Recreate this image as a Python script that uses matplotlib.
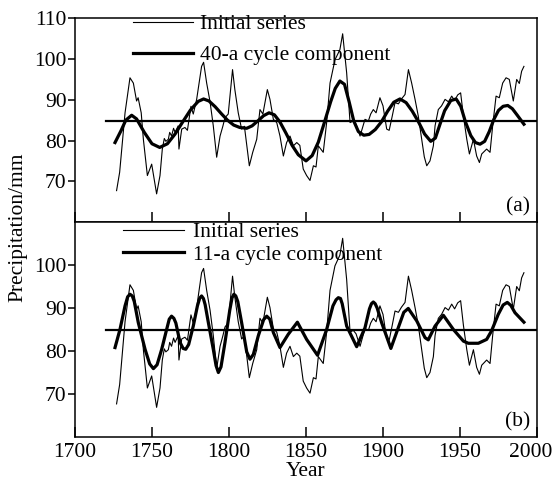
import numpy as np
import matplotlib.pyplot as plt
import matplotlib.transforms as mtransforms

plt.rcParams['font.family'] = ['Liberation Serif', 'DejaVu Serif']

# initial precipitation series
years = [1727, 1729, 1732.5, 1735.7, 1737.9, 1740, 1741, 1743, 1744.4, 1747,
         1749.8, 1753, 1755.2, 1756.7, 1758, 1759, 1760.6, 1761.5, 1762.7, 1764,
         1765, 1767, 1767.5, 1769.3, 1771.4, 1773, 1775.3, 1776.8, 1779, 1782.2,
         1783.5, 1785.5, 1787.7, 1789.8, 1792, 1794.2, 1796, 1797.4, 1799.5, 1802.3,
         1803.8, 1806, 1808.2, 1810, 1813.2, 1815.4, 1818, 1820.1, 1822, 1824.9,
         1826.6, 1828.8, 1831, 1833.1, 1835.3, 1837.4, 1839.6, 1841.8, 1844, 1846,
         1848.2, 1850.4, 1852.6, 1854.8, 1856.5, 1858, 1861.2, 1863.4, 1865.6, 1868.8,
         1872, 1873.8, 1876.4, 1878.6, 1880.7, 1882.5, 1885.1, 1888.3, 1890.5, 1892,
         1893.7, 1895.5, 1898, 1900, 1902.4, 1904, 1906, 1907.8, 1910, 1912,
         1914.3, 1916.5, 1918.6, 1920.8, 1922.9, 1925.1, 1926.8, 1928.4, 1930.5, 1932.7,
         1933.8, 1935.9, 1938, 1940.3, 1942.5, 1944.6, 1946.5, 1948.5, 1950.4, 1952.2,
         1954.4, 1956.1, 1958.7, 1960.8, 1962.6, 1964.1, 1967.3, 1969.5, 1971.2, 1973.4,
         1975.5, 1977.7, 1979.9, 1982, 1984.6, 1986.8, 1988.5, 1990, 1991.5]
precip = [67.7, 72.2, 86.8, 95.4, 94.1, 89.7, 90.5, 86.8, 80.3, 71.4,
          74.2, 66.9, 71.4, 77.9, 80.5, 79.8, 80.3, 82.0, 81.1, 83.0,
          82.0, 83.6, 77.9, 82.8, 83.2, 82.5, 88.4, 86.5, 90.1, 98.2,
          99.2, 94.1, 89.5, 83.6, 75.9, 81.1, 83.5, 85.6, 86.5, 97.4,
          92.5, 86.8, 82.8, 83.5, 73.8, 77.1, 80.3, 87.6, 86.5, 92.5,
          90.1, 85.2, 84.4, 81.1, 76.2, 79.5, 81.1, 78.7, 79.5, 78.8,
          73.0, 71.4, 70.2, 73.8, 73.5, 78.7, 77.1, 84.4, 94.1, 99.8,
          102.3, 106.2, 96.6, 84.4, 84.8, 84.0, 81.1, 85.2, 84.8, 86.5,
          87.6, 86.8, 90.5, 88.5, 82.8, 82.5, 86.0, 89.3, 89.0, 90.2,
          91.3, 97.4, 94.1, 90.1, 86.0, 80.3, 76.0, 73.8, 75.0, 78.7,
          83.6, 87.6, 88.5, 90.1, 89.5, 90.9, 89.8, 91.2, 91.7, 86.0,
          80.3, 76.7, 80.3, 76.2, 74.6, 76.7, 77.9, 77.1, 83.6, 90.9,
          90.5, 94.1, 95.4, 95.0, 89.7, 95.0, 94.0, 97.0, 98.2]

# 40-a cycle component
years_40 = [1726, 1730, 1733, 1736.8, 1740, 1745, 1750, 1755, 1760, 1765,
            1770, 1775, 1780, 1783.5, 1787, 1791, 1795, 1799, 1803, 1807,
            1811.5, 1815, 1819, 1822.5, 1826, 1829.5, 1833, 1837, 1841, 1845,
            1850, 1854, 1858, 1862, 1866, 1869, 1872, 1875, 1878, 1881,
            1884, 1887.5, 1891, 1895, 1899, 1903, 1907, 1911, 1915, 1919,
            1923, 1927, 1931, 1934, 1937, 1940, 1944, 1947.5, 1950.5, 1953.5,
            1957, 1960, 1963, 1966, 1969, 1972, 1975, 1978, 1981, 1984,
            1987, 1991.5]
cyc_40 = [79.5, 82.5, 85.0, 86.2, 85.3, 82.0, 79.2, 78.3, 79.2, 81.6,
          84.6, 87.5, 89.6, 90.2, 89.7, 88.3, 86.6, 85.0, 83.8, 83.2,
          83.0, 83.6, 84.9, 86.1, 86.8, 86.3, 84.6, 81.8, 78.8, 76.5,
          75.0, 76.3, 79.6, 84.5, 89.5, 92.8, 94.6, 93.8, 89.5, 84.8,
          82.2, 81.3, 81.5, 82.7, 84.6, 87.2, 89.4, 90.2, 89.3, 87.2,
          84.6, 81.6, 79.8, 80.6, 84.0, 87.3, 89.8, 90.2, 88.4, 84.6,
          81.2, 79.5, 79.1, 79.8, 82.2, 85.2, 87.4, 88.4, 88.6, 87.8,
          86.3, 84.0]

# 11-a cycle component
years_11 = [1726, 1729.2, 1732.5, 1734.2, 1735.7, 1737.2, 1738.5, 1741.1, 1745.5, 1748.5,
            1750.9, 1753.3, 1756.3, 1759.5, 1761.2, 1762.7, 1764.2, 1765.5, 1768.2, 1770.2,
            1771.9, 1773.8, 1776.8, 1779.5, 1781, 1782.2, 1783.4, 1784.5, 1786.6, 1789.8,
            1791.6, 1793.1, 1794.8, 1797.4, 1800.5, 1802, 1803.2, 1804.4, 1805.7, 1808.2,
            1811.5, 1813.6, 1815.8, 1819, 1822.5, 1824.5, 1826.5, 1828.8, 1833.1, 1838.5,
            1844.4, 1850.4, 1857.5, 1863.4, 1867.5, 1869.5, 1871, 1872.4, 1873.5, 1876.4,
            1882.9, 1888.3, 1891.2, 1892.5, 1893.7, 1894.9, 1896.2, 1899.1, 1905.1, 1909.9,
            1913.5, 1916.4, 1921.9, 1927.3, 1929.4, 1933.8, 1939.2, 1945.7, 1952.2, 1955.4,
            1961.9, 1967.3, 1970.5, 1974.8, 1978, 1980.7, 1983, 1985.7, 1991.5]
cyc_11 = [80.8, 85.0, 90.5, 92.6, 93.2, 92.8, 91.5, 86.6, 80.4, 77.0,
          75.9, 76.8, 80.4, 85.0, 87.4, 88.1, 87.6, 86.5, 82.0, 80.6,
          80.4, 81.5, 85.8, 90.5, 92.3, 92.8, 92.2, 90.8, 86.6, 80.4,
          76.6, 75.0, 76.3, 82.0, 89.5, 92.4, 93.2, 92.8, 91.5, 86.6,
          79.8, 78.1, 79.2, 83.5, 87.3, 88.1, 87.4, 84.3, 80.8, 83.9,
          86.7, 82.7, 79.0, 85.0, 90.5, 91.9, 92.4, 92.2, 91.0, 85.8,
          81.0, 85.4, 89.8, 91.0, 91.4, 91.0, 90.0, 86.6, 80.6, 85.4,
          89.0, 89.9, 87.0, 83.1, 82.6, 85.8, 88.3, 85.0, 82.3, 81.8,
          81.8, 82.7, 84.7, 88.5, 90.7, 91.3, 90.6, 88.9, 86.7]

mean_level = 84.8

fig = plt.figure(figsize=(5.53, 4.83), dpi=100)
ax1 = fig.add_axes([0.1356, 0.5404, 0.8355, 0.4217])
ax2 = fig.add_axes([0.1356, 0.0952, 0.8355, 0.4452])

fs = 15.5
panels = [(ax1, years_40, cyc_40, '40-a cycle component', '(a)', [70, 80, 90, 100, 110]),
          (ax2, years_11, cyc_11, '11-a cycle component', '(b)', [70, 80, 90, 100])]

for ax, yr, cyc, lab, tag, yt in panels:
    ax.plot(years, precip, color='black', lw=0.8, label='Initial series')
    ax.plot(yr, cyc, color='black', lw=2.3, label=lab)
    ax.plot([1720, 2000], [mean_level, mean_level], color='black', lw=1.6)
    ax.set_xlim(1700, 2000)
    ax.set_ylim(60, 110)
    ax.set_yticks(yt)
    ax.set_xticks([1700, 1750, 1800, 1850, 1900, 1950, 2000])
    ax.tick_params(axis='x', direction='in', length=7, width=1.1, labelsize=fs, pad=4)
    ax.tick_params(axis='y', direction='out', length=5, width=1.1, labelsize=fs, pad=1)
    for s in ax.spines.values():
        s.set_linewidth(1.1)
    ax.text(0.985, 0.025, tag, transform=ax.transAxes, ha='right', va='bottom', fontsize=fs)

ax1.tick_params(axis='x', labelbottom=False)
ax1.legend(loc='upper left', bbox_to_anchor=(0.12, 1.03), frameon=False, fontsize=fs,
           handlelength=2.8, handletextpad=0.35, labelspacing=0.5, borderaxespad=0,
           borderpad=0.1)
ax2.legend(loc='upper left', bbox_to_anchor=(0.10, 1.01), frameon=False, fontsize=fs,
           handlelength=2.8, handletextpad=0.45, labelspacing=0.12, borderaxespad=0,
           borderpad=0.1)

# keep the last year label inside the figure
last = ax2.get_xticklabels()[-1]
last.set_transform(last.get_transform() +
                   mtransforms.ScaledTranslation(-6 / 100, 0, fig.dpi_scale_trans))

ax2.set_xlabel('Year', fontsize=fs, labelpad=0)
fig.text(0.033, 0.53, 'Precipitation/mm', rotation=90, ha='center', va='center', fontsize=fs)

fig.savefig('out.png', dpi=100)
